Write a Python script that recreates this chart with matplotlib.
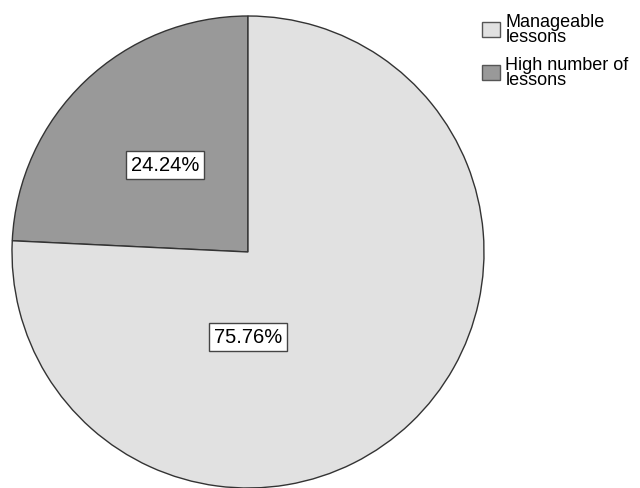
import math
import matplotlib.pyplot as plt
from matplotlib.patches import Patch

plt.rcParams['font.family'] = ['Liberation Sans', 'DejaVu Sans']

categories = ["Manageable\nlessons", "High number of\nlessons"]
counts = [25, 8]
colors = ["#e1e1e1", "#999999"]

fig = plt.figure(figsize=(6.4, 4.89), dpi=100)
ax = fig.add_axes([12 / 640, 0 / 489, 472 / 640, 472 / 489])

total = sum(counts)
pcts = [c / total * 100 for c in counts]

# draw the smaller slice first so it sits in the upper-left quadrant
order = [1, 0]
wedges, texts = ax.pie(
    [counts[i] for i in order],
    colors=[colors[i] for i in order],
    startangle=90,
    counterclock=True,
    radius=1.0,
    wedgeprops=dict(edgecolor="#333333", linewidth=1.0),
)
ax.set_xlim(-1, 1)
ax.set_ylim(-1, 1)
ax.set_aspect("equal")

box = dict(boxstyle="square,pad=0.22", facecolor="white", edgecolor="#444444", linewidth=1.0)
# label for the small slice along its mid angle
w = wedges[0]
mid = math.radians((w.theta1 + w.theta2) / 2)
ax.text(0.51 * math.cos(mid), 0.51 * math.sin(mid), f"{pcts[1]:.2f}%",
        ha="center", va="center", fontsize=14.5, bbox=box)
ax.text(0.0, -0.36, f"{pcts[0]:.2f}%", ha="center", va="center", fontsize=14.5, bbox=box)

handles = [Patch(facecolor=colors[i], edgecolor="#555555", linewidth=1.0) for i in range(2)]
fig.legend(handles, categories, loc="upper left", bbox_to_anchor=(482 / 640, 1 - 14 / 489),
           frameon=False, fontsize=13, handlelength=1.0, handleheight=0.9,
           handletextpad=0.3, labelspacing=0.6, borderpad=0, borderaxespad=0)
for t in fig.legends[0].get_texts():
    t.set_linespacing(0.85)

fig.savefig("out.png", dpi=100)
